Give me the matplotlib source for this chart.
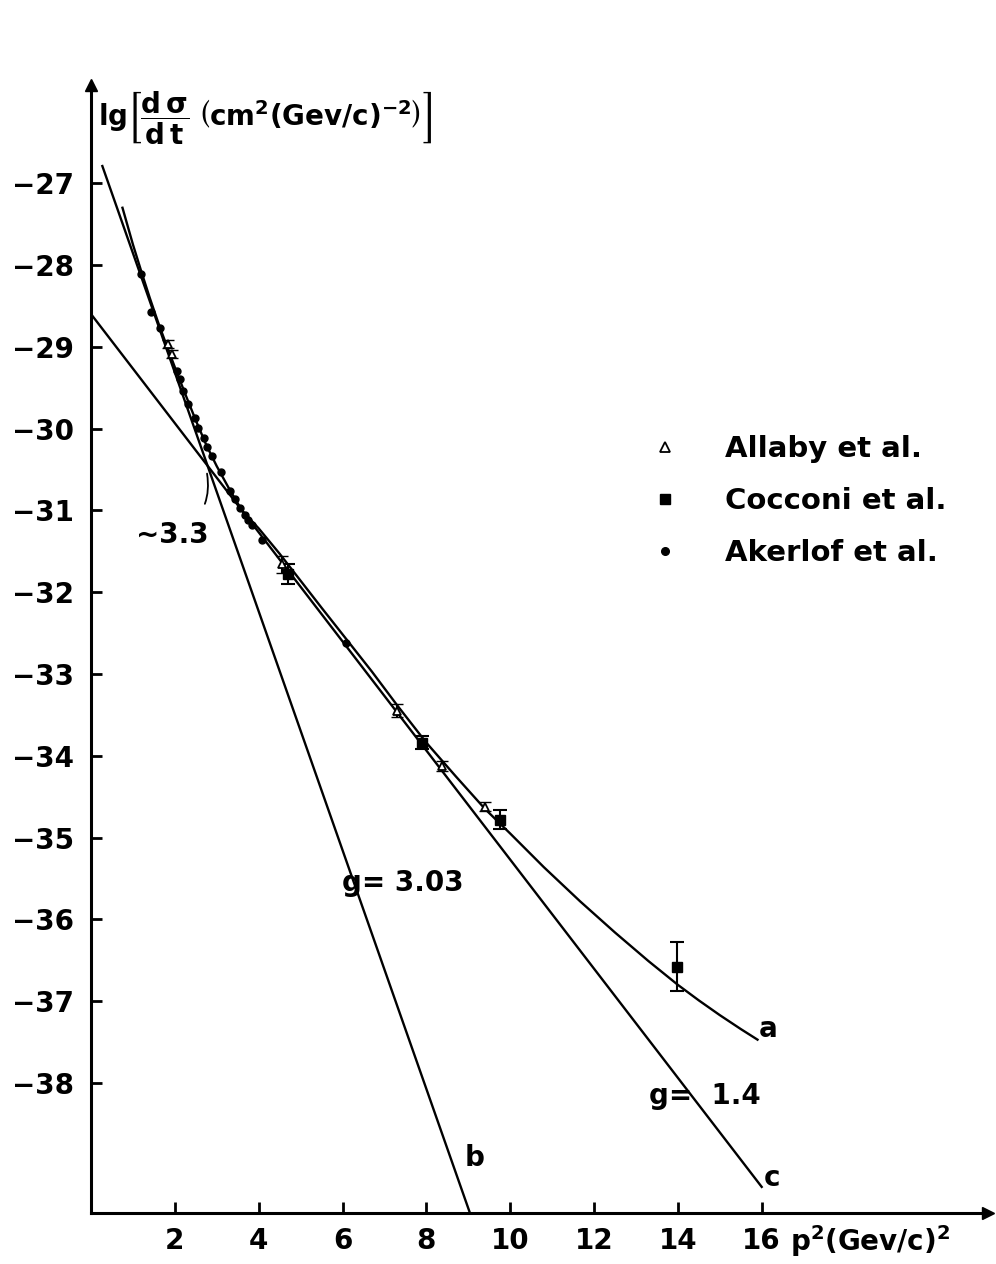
import matplotlib
matplotlib.use('Agg')
import matplotlib.pyplot as plt

plt.rcParams['font.family'] = ['DejaVu Sans']
plt.rcParams['font.weight'] = 'bold'
plt.rcParams['mathtext.fontset'] = 'dejavusans'
plt.rcParams['mathtext.default'] = 'regular'

# curve a
a_x = [0.75, 1.0, 1.2, 1.4, 1.6, 1.8, 2.0, 2.25, 2.5, 2.75, 3.0, 3.3, 3.6, 4.0,
       4.5, 5.0, 5.5, 6.1, 6.7, 7.3, 8.0, 8.7, 9.4, 10.0, 10.8, 11.67, 12.5,
       13.3, 14.0, 14.5, 15.0, 15.5, 15.9]
a_y = [-27.30, -27.75, -28.08, -28.40, -28.70, -28.98, -29.25, -29.58, -29.90,
       -30.20, -30.46, -30.74, -31.00, -31.22, -31.53, -31.86, -32.19, -32.58,
       -32.97, -33.38, -33.84, -34.25, -34.65, -34.95, -35.36, -35.78, -36.16,
       -36.51, -36.80, -36.99, -37.17, -37.34, -37.47]
# straight lines b (g=3.03) and c (g=1.4)
b_x = [0.27, 9.04]
b_y = [-26.79, -39.59]
c_x = [0.0, 16.0]
c_y = [-28.60, -39.27]

# measurements
akerlof_x = [1.19, 1.44, 1.64, 2.04, 2.12, 2.20, 2.32, 2.48, 2.56, 2.70, 2.77,
             2.88, 3.10, 3.31, 3.43, 3.55, 3.67, 3.75, 3.83, 4.07, 6.08]
akerlof_y = [-28.11, -28.58, -28.77, -29.30, -29.39, -29.54, -29.70, -29.87,
             -29.99, -30.12, -30.23, -30.33, -30.53, -30.76, -30.86, -30.97,
             -31.05, -31.12, -31.18, -31.36, -32.62]
allaby_x = [1.84, 1.92, 4.55, 7.31, 8.37, 9.40]
allaby_y = [-28.97, -29.09, -31.66, -33.45, -34.12, -34.62]
allaby_err = [0.05, 0.05, 0.10, 0.08, 0.06, 0.06]
cocconi_x = [4.70, 7.89, 9.76, 13.98]
cocconi_y = [-31.78, -33.84, -34.78, -36.58]
cocconi_err = [0.12, 0.08, 0.12, 0.30]

x_ticks = [2, 4, 6, 8, 10, 12, 14, 16]
y_ticks = [-27, -28, -29, -30, -31, -32, -33, -34, -35, -36, -37, -38]

fig = plt.figure(figsize=(9.96, 12.64), dpi=100)
ax = fig.add_axes([0.0914, 0.0403, 0.9006, 0.8924])

ax.plot(a_x, a_y, 'k-', lw=1.7)
ax.plot(b_x, b_y, 'k-', lw=1.7)
ax.plot(c_x, c_y, 'k-', lw=1.7)

ax.errorbar(allaby_x, allaby_y, yerr=allaby_err, fmt='none', ecolor='k',
            elinewidth=1.5, capsize=4)
ax.errorbar(cocconi_x, cocconi_y, yerr=cocconi_err, fmt='none', ecolor='k',
            elinewidth=1.5, capsize=5, capthick=1.5)
ax.plot(allaby_x, allaby_y, '^', ms=6, mfc='white', mec='k', mew=1.3,
        ls='none', label='Allaby et al.')
ax.plot(cocconi_x, cocconi_y, 's', ms=7, color='k', ls='none',
        label='Cocconi et al.')
ax.plot(akerlof_x, akerlof_y, 'o', ms=5, color='k', ls='none',
        label='Akerlof et al.')

ax.legend(loc='upper left', bbox_to_anchor=(0.6236, 0.6897), frameon=False,
          fontsize=21, borderpad=0, borderaxespad=0, handlelength=1.0,
          handletextpad=1.55, labelspacing=0.82, markerscale=1.1)

ax.set_xlim(0, 21.4)
ax.set_ylim(-39.59, -25.8)
ax.set_xticks(x_ticks)
ax.set_xticklabels([str(v) for v in x_ticks])
ax.set_yticks(y_ticks)
ax.set_yticklabels(['\u2212%d' % -v for v in y_ticks])
ax.tick_params(direction='in', length=8, width=2, labelsize=20)
ax.tick_params(axis='x', pad=10)
ax.tick_params(axis='y', pad=12)
for s in ['top', 'right']:
    ax.spines[s].set_visible(False)
for s in ['left', 'bottom']:
    ax.spines[s].set_linewidth(2.2)
ax.plot(1, 0, '>k', ms=9, transform=ax.transAxes, clip_on=False)
ax.plot(0, 1, '^k', ms=9, transform=ax.transAxes, clip_on=False)

# curve names and slopes
ax.text(16.15, -37.34, 'a', fontsize=20, ha='center', va='center')
ax.text(9.16, -38.92, 'b', fontsize=20, ha='center', va='center')
ax.text(16.25, -39.16, 'c', fontsize=20, ha='center', va='center')
ax.text(7.44, -35.56, 'g= 3.03', fontsize=20, ha='center', va='center')
ax.text(14.65, -38.16, 'g=  1.4', fontsize=20, ha='center', va='center')
ax.annotate('\u223c3.3', xy=(2.75, -30.5), xytext=(1.95, -31.3),
            fontsize=20, ha='center', va='center',
            arrowprops=dict(arrowstyle='-', color='k', lw=1.3,
                            connectionstyle='arc3,rad=0.4',
                            shrinkA=12, shrinkB=3))

fig.text(98 / 996, 1 - 117 / 1264,
         r'$\mathrm{lg}\left[\dfrac{d\,\sigma}{d\,t}\;\left(\mathrm{cm}^2\left(\mathrm{Gev/c}\right)^{-2}\right)\right]$',
         fontsize=20, ha='left', va='center')
fig.text(790 / 996, 1 - 1241 / 1264,
         r'$\mathrm{p}^2\left(\mathrm{Gev/c}\right)^2$',
         fontsize=20, ha='left', va='center')

fig.savefig('out.png', dpi=100)
